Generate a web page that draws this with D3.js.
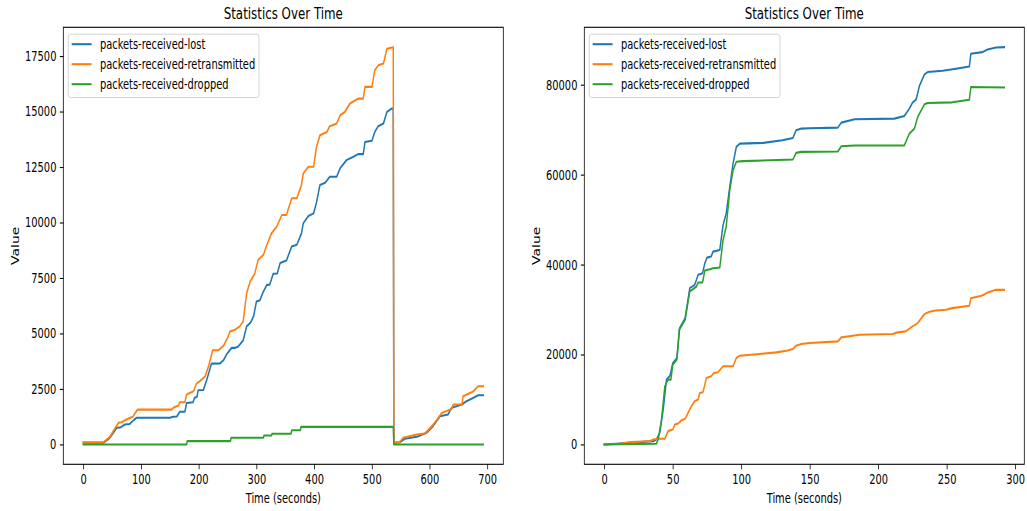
<!DOCTYPE html>
<html>
<head>
<meta charset="utf-8">
<script src="https://cdn.jsdelivr.net/npm/d3@7"></script>
<style>
    body { margin: 0; background: #fff; }
    svg { display: block; }
</style>
</head>
<body>
<div id="chart"></div>
<script>
// series names and colours (matplotlib tab10)
const seriesNames = ["packets-received-lost", "packets-received-retransmitted", "packets-received-dropped"];
const seriesColors = ["#1f77b4", "#ff7f0e", "#2ca02c"];

// left run: [time (s), value]
const lostA = [[0,75],[35,75],[46,300],[58,750],[64,760],[72,900],[80,920],[87,1090],[92,1200],[150,1200],[156,1250],[162,1260],[167,1470],[176,1470],[179,1870],[190,1900],[193,2100],[197,2150],[199,2440],[208,2450],[214,2920],[222,3640],[237,3650],[243,3800],[248,4050],[257,4350],[262,4350],[268,4400],[277,4690],[283,5320],[290,5500],[295,5770],[300,6440],[306,6500],[312,6890],[318,7190],[323,7200],[329,7690],[336,7700],[341,8170],[352,8290],[361,8920],[370,9000],[378,9510],[381,9960],[390,10290],[399,10410],[404,10900],[410,11690],[419,11790],[427,12060],[439,12060],[445,12440],[456,12810],[468,12960],[476,13080],[485,13080],[488,13630],[500,13680],[505,14080],[511,14340],[520,14460],[526,14980],[534,15130],[537,15130],[538,75],[548,100],[557,255],[578,345],[595,525],[606,825],[618,1270],[632,1350],[638,1650],[656,1800],[664,1950],[676,2100],[684,2220],[693,2220]];
const retransA = [[0,100],[35,100],[46,345],[61,975],[67,1000],[72,1090],[81,1200],[86,1250],[90,1420],[94,1570],[153,1570],[156,1650],[165,1750],[167,1900],[176,1900],[179,2250],[191,2400],[196,2740],[202,2850],[211,3070],[217,3520],[224,4240],[234,4240],[243,4450],[250,4800],[254,5090],[263,5170],[271,5320],[277,5540],[283,6820],[289,7340],[297,7690],[303,8320],[312,8540],[318,8990],[326,9510],[335,9810],[344,10340],[352,10340],[361,11090],[370,11090],[378,11690],[381,12210],[390,12510],[399,12510],[404,13410],[410,13930],[422,14080],[427,14340],[439,14460],[445,14830],[453,14980],[462,15360],[476,15580],[485,15580],[488,16110],[500,16110],[505,16860],[511,17080],[520,17160],[526,17830],[537,17900],[538,75],[548,100],[554,300],[578,450],[592,495],[604,825],[612,1090],[621,1420],[638,1600],[641,1800],[656,1800],[658,2170],[670,2320],[676,2400],[684,2620],[693,2620]];
const droppedA = [[0,0],[179,0],[180,150],[255,150],[256,300],[312,300],[313,400],[326,400],[327,480],[360,480],[361,640],[376,640],[377,790],[537,790],[538,0],[693,0]];

// right run
const lostB = [[0,0],[19,370],[36,740],[38,1100],[40.5,2600],[43,7760],[45.4,14420],[48,15300],[50,18100],[53,19220],[55,25880],[59,28100],[62.4,34750],[66,35490],[68.5,37710],[71.7,38080],[73.4,40300],[75,41550],[78,41780],[79.4,42880],[84.3,43250],[86.7,48800],[89,51390],[91.6,57300],[94,62480],[96.4,66170],[98.9,66900],[116,67060],[130,67650],[137.7,68170],[140,69870],[143.8,70240],[150,70310],[170.5,70460],[173,71570],[182.7,72310],[211.8,72460],[219,73050],[222.7,74680],[225,76010],[227.6,76670],[230,79700],[233.7,82290],[236,82810],[247,83100],[256.7,83550],[266.5,84070],[267.6,86880],[276,87250],[279.8,87840],[286,88280],[292,88350]];
const retransB = [[0,0],[11.4,150],[19,520],[28.4,670],[33.3,740],[35.7,1100],[39.3,1260],[44.2,1260],[46.6,2960],[50,3330],[51.5,4440],[53.9,4660],[55,4950],[56.4,5400],[59,5690],[60,6280],[63.6,8500],[66,9610],[68.5,9980],[69.7,11460],[72,11610],[74.6,14790],[78,15160],[80,15900],[83,16040],[86.7,17380],[94,17380],[96.4,19220],[98.9,19740],[113.4,20110],[125.6,20480],[132.9,20850],[137.7,21220],[140,21960],[143.8,22330],[150,22550],[170.5,22920],[173,23810],[181.4,24180],[186.3,24400],[210.6,24550],[214,24920],[220,25140],[225,26250],[228.8,26990],[233.7,28980],[237.3,29500],[242,29800],[249.5,29940],[254,30310],[266.5,30830],[267.6,32530],[276,33120],[279.8,33790],[286,34380],[292,34380]];
const droppedB = [[0,0],[38,150],[39.3,1100],[41.8,5550],[44.2,12940],[46.6,14420],[48.6,14420],[50,17750],[53,18850],[54.7,25510],[59,27730],[62.4,34010],[67.3,35120],[68.5,36010],[71.7,36010],[73.4,38670],[77,38960],[79.4,39190],[84.3,39330],[86.7,45470],[89,48430],[91.6,56560],[94,61000],[96.4,62850],[101,63000],[137.7,63360],[140,64840],[143.8,65060],[170.5,65140],[173,66320],[182.7,66470],[219,66470],[222.7,69130],[226.4,70240],[228.8,72830],[233.7,75640],[236,75930],[254,76080],[266.5,76670],[267.6,79480],[292,79400]];

// tick labels
const xTicksA = [0, 100, 200, 300, 400, 500, 600, 700];
const yTicksA = [0, 2500, 5000, 7500, 10000, 12500, 15000, 17500];
const xTicksB = [0, 50, 100, 150, 200, 250, 300];
const yTicksB = [0, 20000, 40000, 60000, 80000];

const titleText = "Statistics Over Time";
const xLabel = "Time (seconds)";
const yLabel = "Value";

// the reference figure is squeezed horizontally, so draw wide and squash it with the viewBox
const squeeze = 0.71;
const width = 1027, height = 511;
const vw = width / squeeze;
const font = "DejaVu Sans, sans-serif";

const svg = d3.select("#chart")
    .append("svg")
    .attr("width", width)
    .attr("height", height)
    .attr("viewBox", "0 0 " + vw + " " + height)
    .attr("preserveAspectRatio", "none")
    .style("background-color", "white");

const plotTop = 27.3, plotBottom = 464.3;

function padded(ext) {
    var r = ext[1] - ext[0];
    return [ext[0] - r * 0.05, ext[1] + r * 0.05];
}

function drawPanel(left, right, series, xTicks, yTicks) {
    var all = [].concat(...series);
    var x = d3.scaleLinear().domain(padded(d3.extent(all, d => d[0]))).range([left, right]);
    var y = d3.scaleLinear().domain(padded(d3.extent(all, d => d[1]))).range([plotBottom, plotTop]);

    var g = svg.append("g");

    // lines
    var line = d3.line().x(d => x(d[0])).y(d => y(d[1]));
    series.forEach((s, i) => {
        g.append("path")
            .datum(s)
            .attr("d", line)
            .attr("fill", "none")
            .attr("stroke", seriesColors[i])
            .attr("stroke-width", 2.08)
            .attr("stroke-linejoin", "round")
            .attr("stroke-linecap", "square");
    });

    // axes
    var gx = g.append("g")
        .attr("transform", "translate(0," + plotBottom + ")")
        .call(d3.axisBottom(x).tickValues(xTicks).tickFormat(d3.format("d")).tickSize(4.86).tickPadding(4.86));
    var gy = g.append("g")
        .attr("transform", "translate(" + left + ",0)")
        .call(d3.axisLeft(y).tickValues(yTicks).tickFormat(d3.format("d")).tickSize(4.86).tickPadding(4.86));
    [gx, gy].forEach(a => {
        a.select(".domain").remove();
        a.attr("font-size", 13.9).attr("font-family", font);
        a.selectAll("line").attr("stroke", "#000").attr("stroke-width", 1.1);
        a.selectAll("text").attr("fill", "#000");
    });

    // frame
    g.append("rect")
        .attr("x", left)
        .attr("y", plotTop)
        .attr("width", right - left)
        .attr("height", plotBottom - plotTop)
        .attr("fill", "none")
        .attr("stroke", "#000")
        .attr("stroke-width", 1.1);

    // title and labels
    g.append("text")
        .attr("x", (left + right) / 2)
        .attr("y", 19.5)
        .attr("text-anchor", "middle")
        .attr("font-family", font)
        .attr("font-size", 16.7)
        .attr("fill", "#000")
        .text(titleText);

    g.append("text")
        .attr("x", (left + right) / 2)
        .attr("y", 503)
        .attr("text-anchor", "middle")
        .attr("font-family", font)
        .attr("font-size", 13.9)
        .attr("fill", "#000")
        .text(xLabel);

    g.append("text")
        .attr("transform", "translate(" + (left - 63) + "," + ((plotTop + plotBottom) / 2) + ") rotate(-90)")
        .attr("text-anchor", "middle")
        .attr("font-family", font)
        .attr("font-size", 13.9)
        .attr("fill", "#000")
        .text(yLabel);

    // legend
    var lg = g.append("g").attr("transform", "translate(" + (left + 7) + "," + (plotTop + 6.9) + ")");
    lg.append("rect")
        .attr("width", 268.6)
        .attr("height", 63.3)
        .attr("rx", 3)
        .attr("ry", 3)
        .attr("fill", "white")
        .attr("fill-opacity", 0.8)
        .attr("stroke", "#cccccc")
        .attr("stroke-width", 1);
    seriesNames.forEach((name, i) => {
        var cy = 10 + i * 20;
        lg.append("line")
            .attr("x1", 4.8)
            .attr("x2", 32.8)
            .attr("y1", cy)
            .attr("y2", cy)
            .attr("stroke", seriesColors[i])
            .attr("stroke-width", 2.08);
        lg.append("text")
            .attr("x", 44.6)
            .attr("y", cy)
            .attr("dy", "0.35em")
            .attr("font-family", font)
            .attr("font-size", 13.9)
            .attr("fill", "#000")
            .text(name);
    });
}

drawPanel(63.3 / squeeze, 503.3 / squeeze, [lostA, retransA, droppedA], xTicksA, yTicksA);
drawPanel(584.3 / squeeze, 1024.3 / squeeze, [lostB, retransB, droppedB], xTicksB, yTicksB);
</script>
</body>
</html>
